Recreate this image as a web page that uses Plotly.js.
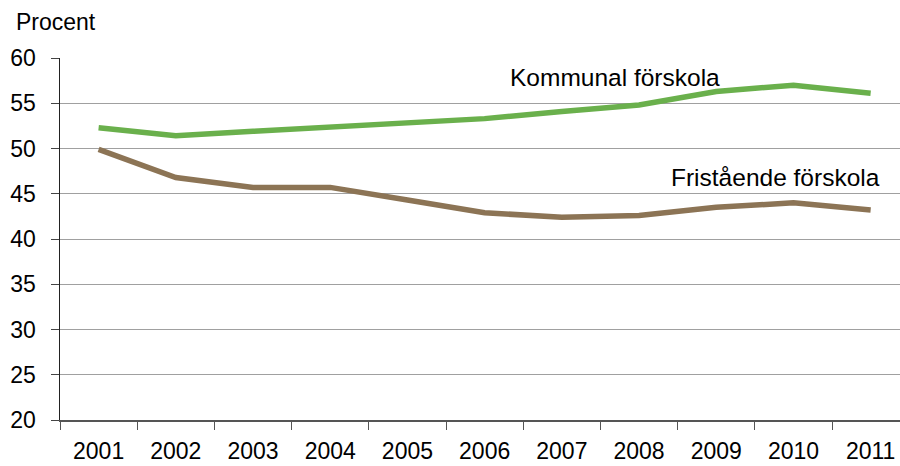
<!DOCTYPE html>
<html>
<head>
<meta charset="utf-8">
<script src="https://cdn.plot.ly/plotly-3.0.1.min.js"></script>
<style>
  html, body { margin: 0; padding: 0; background: #fff; }
  #chart { width: 900px; height: 466px; }
</style>
</head>
<body>
<div id="chart"></div>
<script>
// years and shares (procent)
const years = ['2001','2002','2003','2004','2005','2006','2007','2008','2009','2010','2011'];
const kommunal = [52.3, 51.4, 51.9, 52.4, 52.8, 53.3, 54.1, 54.8, 56.3, 57.0, 56.1];
const fristaende = [49.9, 46.8, 45.7, 45.7, 44.3, 42.9, 42.4, 42.6, 43.5, 44.0, 43.2];

const font = 'Liberation Sans, Arial, sans-serif';

let data = [
  {x: years, y: kommunal, mode: 'lines', type: 'scatter', name: 'Kommunal förskola',
   line: {color: '#6ab04c', width: 5.5}},
  {x: years, y: fristaende, mode: 'lines', type: 'scatter', name: 'Fristående förskola',
   line: {color: '#8c7455', width: 5.5}}
];

let layout = {
  width: 900,
  height: 466,
  margin: {l: 60, r: 0, t: 58, b: 46},
  paper_bgcolor: '#fff',
  plot_bgcolor: '#fff',
  showlegend: false,
  font: {family: font, size: 22, color: '#000'},
  xaxis: {
    type: 'category',
    range: [-0.5, 10.38],
    showgrid: false,
    showline: true,
    linecolor: '#555',
    linewidth: 1.5,
    ticks: 'outside',
    tickson: 'boundaries',
    ticklen: 8,
    tickcolor: '#555',
    ticklabelstandoff: 10,
    tickfont: {family: font, size: 23, color: '#000'}
  },
  yaxis: {
    range: [20, 60],
    dtick: 5,
    showgrid: true,
    gridcolor: '#a0a0a0',
    gridwidth: 1,
    showline: true,
    linecolor: '#222',
    linewidth: 1.5,
    ticks: 'outside',
    ticklen: 8,
    tickcolor: '#444',
    ticklabelstandoff: 10,
    tickfont: {family: font, size: 23, color: '#000'},
    zeroline: false
  },
  annotations: [
    {text: 'Procent', xref: 'paper', yref: 'paper', x: -0.055, y: 1.1,
     xanchor: 'left', yanchor: 'middle', showarrow: false,
     font: {family: font, size: 23, color: '#000'}},
    {text: 'Kommunal förskola', xref: 'x', yref: 'y', x: 6.69, y: 57.85,
     xanchor: 'center', yanchor: 'middle', showarrow: false,
     font: {family: font, size: 24.5, color: '#000'}},
    {text: 'Fristående förskola', xref: 'x', yref: 'y', x: 8.77, y: 46.8,
     xanchor: 'center', yanchor: 'middle', showarrow: false,
     font: {family: font, size: 24.5, color: '#000'}}
  ]
};

Plotly.newPlot('chart', data, layout, {staticPlot: true});
</script>
</body>
</html>
